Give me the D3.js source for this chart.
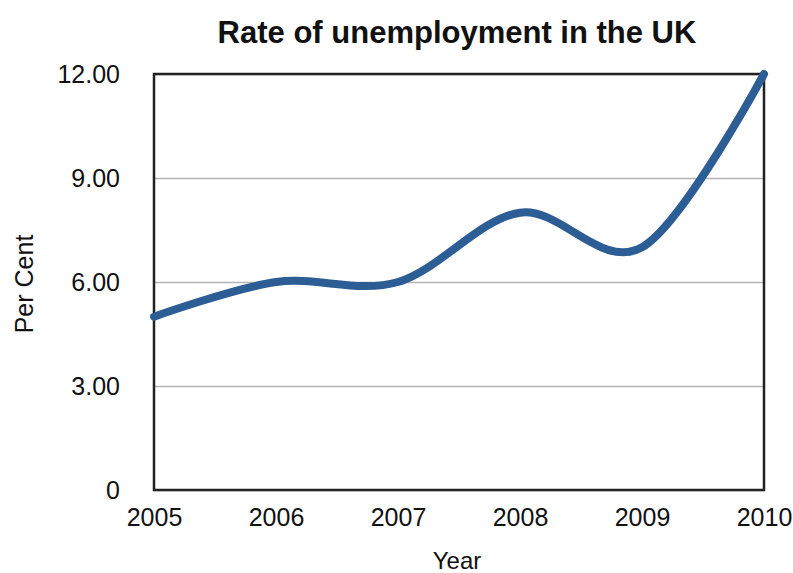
<!DOCTYPE html>
<html>
<head>
<meta charset="utf-8">
<script src="https://d3js.org/d3.v7.min.js"></script>
<style>
body { margin: 0; background: #fff; }
text { font-family: "Liberation Sans", Arial, sans-serif; fill: #111; }
</style>
</head>
<body>
<script>
var w = 793;
var h = 573;

var years = [2005, 2006, 2007, 2008, 2009, 2010];
var rates = [5.0, 6.0, 6.0, 8.0, 7.0, 12.0];
var yTicks = [0, 3, 6, 9, 12];

var plotLeft = 154, plotRight = 764, plotTop = 74, plotBottom = 490;

var svg = d3.select("body").append("svg")
    .attr("width", w)
    .attr("height", h);

var xScale = d3.scaleLinear()
    .domain([2005, 2010])
    .range([plotLeft, plotRight]);
var yScale = d3.scaleLinear()
    .domain([0, 12])
    .range([plotBottom, plotTop]);

// gridlines
svg.append("g")
    .attr("transform", "translate(" + plotLeft + ",0)")
    .call(d3.axisLeft(yScale).tickValues(yTicks).tickSize(-(plotRight - plotLeft)).tickFormat(""))
    .call(function(g) { g.select(".domain").remove(); })
    .selectAll("line")
    .attr("stroke", "#b4b4b4")
    .attr("stroke-width", 1.5);

// frame
svg.append("rect")
    .attr("x", plotLeft)
    .attr("y", plotTop)
    .attr("width", plotRight - plotLeft)
    .attr("height", plotBottom - plotTop)
    .attr("fill", "none")
    .attr("stroke", "#222")
    .attr("stroke-width", 2.5);

// y tick labels
var yAxis = svg.append("g")
    .attr("transform", "translate(" + plotLeft + ",0)")
    .call(d3.axisLeft(yScale).tickValues(yTicks).tickSize(0).tickPadding(34)
        .tickFormat(function(d) { return d === 0 ? "0" : d3.format(".2f")(d); }));
yAxis.select(".domain").remove();
yAxis.selectAll("text")
    .attr("font-size", "25px")
    .attr("font-family", "Liberation Sans, Arial, sans-serif")
    .attr("fill", "#111");

// x tick labels
var xAxis = svg.append("g")
    .attr("transform", "translate(0," + plotBottom + ")")
    .call(d3.axisBottom(xScale).tickValues(years).tickSize(0).tickPadding(18)
        .tickFormat(d3.format("d")));
xAxis.select(".domain").remove();
xAxis.selectAll("text")
    .attr("font-size", "25px")
    .attr("font-family", "Liberation Sans, Arial, sans-serif")
    .attr("fill", "#111");

// line
var line = d3.line()
    .x(function(d, i) { return xScale(years[i]); })
    .y(function(d) { return yScale(d); })
    .curve(d3.curveCardinal.tension(0));

svg.append("path")
    .datum(rates)
    .attr("d", line)
    .attr("fill", "none")
    .attr("stroke", "#2c5d95")
    .attr("stroke-width", 8)
    .attr("stroke-linecap", "round");

// title
svg.append("text")
    .attr("x", 457)
    .attr("y", 43)
    .attr("text-anchor", "middle")
    .attr("font-size", "31px")
    .attr("font-weight", "bold")
    .text("Rate of unemployment in the UK");

svg.append("text")
    .attr("x", 457)
    .attr("y", 569)
    .attr("text-anchor", "middle")
    .attr("font-size", "24px")
    .text("Year");

svg.append("text")
    .attr("transform", "translate(33,284) rotate(-90)")
    .attr("text-anchor", "middle")
    .attr("font-size", "25px")
    .text("Per Cent");
</script>
</body>
</html>
